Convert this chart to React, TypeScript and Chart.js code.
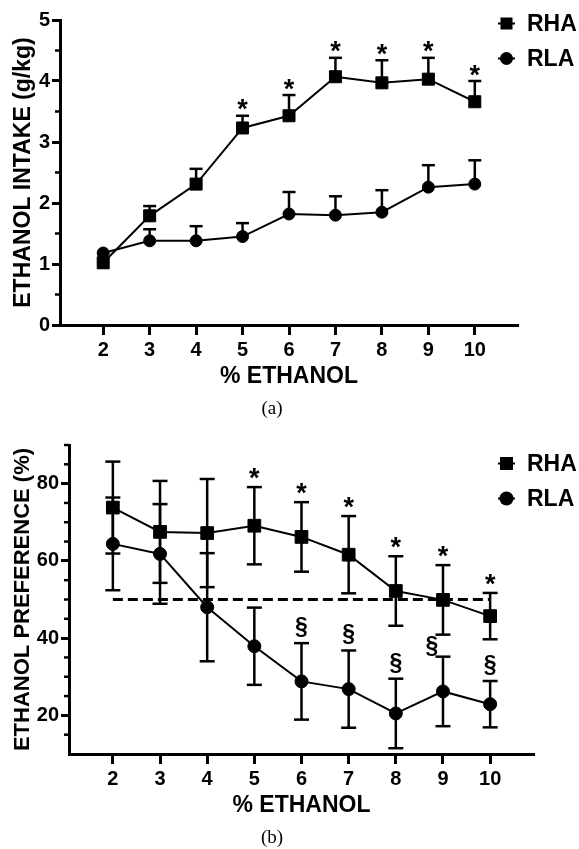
import React, { useEffect, useRef } from 'react';
import { Chart, registerables } from 'chart.js';

Chart.register(...registerables);

// ---------- data ----------
const CONC = [2, 3, 4, 5, 6, 7, 8, 9, 10];
const X_TICKS = [2, 3, 4, 5, 6, 7, 8, 9, 10];

// (a) ethanol intake, g/kg (mean and upper SEM)
const INTAKE_RHA = [1.02, 1.79, 2.31, 3.23, 3.43, 4.07, 3.97, 4.03, 3.66];
const INTAKE_RHA_SEM = [0, 0.16, 0.25, 0.2, 0.34, 0.31, 0.37, 0.35, 0.34];
const INTAKE_RLA = [1.18, 1.38, 1.38, 1.45, 1.82, 1.8, 1.85, 2.26, 2.31];
const INTAKE_RLA_SEM = [0, 0.19, 0.24, 0.22, 0.36, 0.31, 0.36, 0.36, 0.39];
const INTAKE_Y_TICKS = [0, 1, 2, 3, 4, 5];
const INTAKE_Y_MINOR = [0.5, 1.5, 2.5, 3.5, 4.5];
const INTAKE_RHA_SIG = ['', '', '', '*', '*', '*', '*', '*', '*'];

// (b) ethanol preference, % (mean +/- SEM)
const PREF_RHA = [73.8, 67.5, 67.2, 69.1, 66.2, 61.6, 52.2, 49.9, 45.7];
const PREF_RHA_SEM = [11.9, 13.2, 14, 10, 9, 10, 9, 9, 6];
const PREF_RLA = [64.4, 61.8, 48.0, 37.9, 28.8, 26.8, 20.5, 26.2, 22.9];
const PREF_RLA_SEM = [12, 12.9, 14, 10, 9.9, 10, 9, 9, 6];
const PREF_Y_TICKS = [20, 40, 60, 80];
const PREF_Y_MINOR = [15, 25, 30, 35, 45, 50, 55, 65, 70, 75, 85, 90];
const PREF_CHANCE = 50;
const PREF_RHA_SIG = ['', '', '', '*', '*', '*', '*', '*', '*'];
const PREF_RLA_SIG = ['', '', '', '', '§', '§', '§', '§', '§'];

// ---------- style ----------
const FONT = "'Liberation Sans', Arial, Helvetica, sans-serif";
const SERIF = "'Liberation Serif', 'Times New Roman', serif";

const figurePlugin = {
  id: 'figure',
  beforeDatasetsDraw(chart: any, _args: any, opts: any) {
    const { ctx, chartArea: ca, scales } = chart;
    const ys = scales.y;
    ctx.save();
    ctx.strokeStyle = '#000';
    ctx.lineWidth = opts.minorWidth;
    for (const v of opts.minor) {
      const py = ys.getPixelForValue(v);
      ctx.beginPath();
      ctx.moveTo(ca.left, py);
      ctx.lineTo(ca.left - opts.minorLength, py);
      ctx.stroke();
    }
    ctx.restore();
  },
  afterDatasetsDraw(chart: any, _args: any, opts: any) {
    const { ctx, scales } = chart;
    const xs = scales.x;
    const ys = scales.y;
    ctx.save();
    ctx.strokeStyle = '#000';
    ctx.fillStyle = '#000';
    ctx.lineCap = 'butt';
    const seg = (x1: number, y1: number, x2: number, y2: number) => {
      ctx.beginPath();
      ctx.moveTo(x1, y1);
      ctx.lineTo(x2, y2);
      ctx.stroke();
    };
    // error bars
    for (const bar of opts.errorBars) {
      ctx.lineWidth = bar.width;
      bar.x.forEach((xv: number, i: number) => {
        const e = bar.err[i];
        if (!e) return;
        const px = xs.getPixelForValue(xv);
        const pm = ys.getPixelForValue(bar.mean[i]);
        const ends = [bar.mean[i] + e];
        if (bar.both) ends.push(bar.mean[i] - e);
        for (const v of ends) {
          const pe = ys.getPixelForValue(v);
          seg(px, pm, px, pe);
          seg(px - bar.cap / 2, pe, px + bar.cap / 2, pe);
        }
      });
    }
    // significance marks
    for (const m of opts.marks) {
      ctx.font = `bold ${m.size}px ${FONT}`;
      ctx.textAlign = 'center';
      ctx.textBaseline = 'alphabetic';
      m.symbols.forEach((s: string, i: number) => {
        if (!s) return;
        const nudge = (m.nudge && m.nudge[i]) || [0, 0];
        const px = xs.getPixelForValue(m.x[i]) + nudge[0];
        const top = ys.getPixelForValue(m.mean[i] + m.err[i]);
        const cy = top - m.gap + nudge[1];
        const mt = ctx.measureText(s);
        const base = cy + (mt.actualBoundingBoxAscent - mt.actualBoundingBoxDescent) / 2;
        ctx.fillText(s, px, base);
      });
    }
    // legend
    const lg = opts.legend;
    ctx.font = `bold ${lg.size}px ${FONT}`;
    ctx.textAlign = 'left';
    ctx.textBaseline = 'middle';
    lg.rows.forEach((cy: number, i: number) => {
      const ds = chart.data.datasets[i];
      ctx.lineWidth = 2;
      seg(lg.x - 8.5, cy, lg.x + 8.5, cy);
      if (ds.pointStyle === 'rect') {
        ctx.fillRect(lg.x - lg.marker / 2, cy - lg.marker / 2, lg.marker, lg.marker);
      } else {
        ctx.beginPath();
        ctx.arc(lg.x, cy, lg.marker / 2 + 0.5, 0, Math.PI * 2);
        ctx.fill();
      }
      ctx.fillText(ds.label, lg.textX, cy + 1);
    });
    ctx.restore();
  },
};

function xScale(tickPad: number) {
  return {
    type: 'linear',
    min: 1.07,
    max: 10.93,
    afterBuildTicks: (s: any) => {
      s.ticks = X_TICKS.map((v) => ({ value: v }));
    },
    afterFit: (s: any) => {
      s.height = 65;
    },
    grid: { drawOnChartArea: false, drawTicks: true, tickLength: 10, tickWidth: 3, tickColor: '#000' },
    border: { display: true, color: '#000', width: 3 },
    ticks: {
      color: '#000',
      font: { family: FONT, size: 20, weight: 'bold' },
      padding: tickPad,
      maxRotation: 0,
      autoSkip: false,
    },
    title: {
      display: true,
      text: '% ETHANOL',
      color: '#000',
      font: { family: FONT, size: 23, weight: 'bold' },
      padding: { top: 0, bottom: 0 },
    },
  };
}

function yScale(min: number, max: number, ticks: number[], width: number, title: string, titleSize: number) {
  return {
    type: 'linear',
    min,
    max,
    afterBuildTicks: (s: any) => {
      s.ticks = ticks.map((v) => ({ value: v }));
    },
    afterFit: (s: any) => {
      s.width = width;
    },
    grid: { drawOnChartArea: false, drawTicks: true, tickLength: 8, tickWidth: 3, tickColor: '#000' },
    border: { display: true, color: '#000', width: 3 },
    ticks: {
      color: '#000',
      font: { family: FONT, size: 20, weight: 'bold' },
      padding: 2,
      autoSkip: false,
    },
    title: {
      display: true,
      text: title,
      color: '#000',
      font: { family: FONT, size: titleSize, weight: 'bold' },
      padding: { top: 10, bottom: 0 },
    },
  };
}

function series(label: string, values: number[], style: string, radius: number) {
  return {
    label,
    data: CONC.map((x, i) => ({ x, y: values[i] })),
    borderColor: '#000',
    backgroundColor: '#000',
    borderWidth: 2,
    pointStyle: style,
    pointRadius: radius,
    pointBorderWidth: 1,
    pointBackgroundColor: '#000',
    pointBorderColor: '#000',
    tension: 0,
  };
}

function intakeConfig(): any {
  return {
    type: 'line',
    data: {
      datasets: [series('RHA', INTAKE_RHA, 'rect', 8.5), series('RLA', INTAKE_RLA, 'circle', 6)],
    },
    options: {
      responsive: false,
      animation: false,
      devicePixelRatio: 1,
      layout: { padding: { left: 0, right: 61, top: 20, bottom: 30 } },
      plugins: {
        legend: { display: false },
        tooltip: { enabled: false },
        figure: {
          minor: INTAKE_Y_MINOR,
          minorLength: 5,
          minorWidth: 2.5,
          errorBars: [
            { x: CONC, mean: INTAKE_RHA, err: INTAKE_RHA_SEM, both: false, cap: 13, width: 2.5 },
            { x: CONC, mean: INTAKE_RLA, err: INTAKE_RLA_SEM, both: false, cap: 13, width: 2.5 },
          ],
          marks: [{ x: CONC, mean: INTAKE_RHA, err: INTAKE_RHA_SEM, symbols: INTAKE_RHA_SIG, size: 27, gap: 11 }],
          legend: { x: 506.5, textX: 527, rows: [23.5, 58.5], size: 23, marker: 12 },
        },
      },
      scales: {
        x: xScale(3),
        y: yScale(0, 5, INTAKE_Y_TICKS, 60, 'ETHANOL INTAKE (g/kg)', 23),
      },
    },
    plugins: [figurePlugin],
  };
}

function preferenceConfig(): any {
  return {
    type: 'line',
    data: {
      datasets: [
        series('RHA', PREF_RHA, 'rect', 9),
        series('RLA', PREF_RLA, 'circle', 6.5),
        {
          label: 'chance',
          data: [
            { x: CONC[0], y: PREF_CHANCE },
            { x: CONC[CONC.length - 1], y: PREF_CHANCE },
          ],
          borderColor: '#000',
          borderWidth: 3,
          borderDash: [10, 5],
          pointRadius: 0,
        },
      ],
    },
    options: {
      responsive: false,
      animation: false,
      devicePixelRatio: 1,
      layout: { padding: { left: 0, right: 45, top: 25, bottom: 30 } },
      plugins: {
        legend: { display: false },
        tooltip: { enabled: false },
        figure: {
          minor: PREF_Y_MINOR,
          minorLength: 5,
          minorWidth: 2.5,
          errorBars: [
            { x: CONC, mean: PREF_RHA, err: PREF_RHA_SEM, both: true, cap: 15, width: 2.5 },
            { x: CONC, mean: PREF_RLA, err: PREF_RLA_SEM, both: true, cap: 15, width: 2.5 },
          ],
          marks: [
            { x: CONC, mean: PREF_RHA, err: PREF_RHA_SEM, symbols: PREF_RHA_SIG, size: 27, gap: 13.5 },
            {
              x: CONC,
              mean: PREF_RLA,
              err: PREF_RLA_SEM,
              symbols: PREF_RLA_SIG,
              size: 23,
              gap: 16,
              nudge: { 7: [-11, 5] },
            },
          ],
          legend: { x: 506.5, textX: 527, rows: [43.5, 78.5], size: 23, marker: 13 },
        },
      },
      scales: {
        x: xScale(3),
        y: yScale(10, 90, PREF_Y_TICKS, 69, 'ETHANOL PREFERENCE (%)', 22),
      },
    },
    plugins: [figurePlugin],
  };
}

function ChartCanvas({ make, top, height }: { make: () => any; top: number; height: number }) {
  const ref = useRef<HTMLCanvasElement | null>(null);
  useEffect(() => {
    const chart = new Chart(ref.current as HTMLCanvasElement, make());
    return () => chart.destroy();
  }, [make]);
  return (
    <canvas
      ref={ref}
      width={579}
      height={height}
      style={{ position: 'absolute', left: 0, top, width: 579, height }}
    />
  );
}

const captionStyle: any = {
  position: 'absolute',
  left: 222,
  width: 100,
  textAlign: 'center',
  fontFamily: SERIF,
  fontSize: 19,
  lineHeight: '22px',
  color: '#000',
};

export default function App() {
  return (
    <div style={{ position: 'absolute', left: 0, top: 0, width: 579, height: 849, background: '#fff', overflow: 'hidden' }}>
      <ChartCanvas make={intakeConfig} top={0} height={420} />
      <div style={{ ...captionStyle, top: 397 }}>(a)</div>
      <ChartCanvas make={preferenceConfig} top={420} height={429} />
      <div style={{ ...captionStyle, top: 826 }}>(b)</div>
    </div>
  );
}
